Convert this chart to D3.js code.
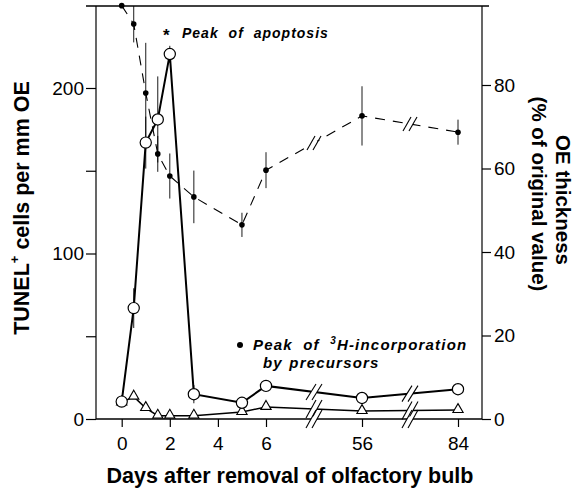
<!DOCTYPE html>
<html>
<head>
<meta charset="utf-8">
<script src="https://cdn.jsdelivr.net/npm/d3@7/dist/d3.min.js"></script>
<style>
  html, body { margin: 0; padding: 0; background: #fff; }
  svg { display: block; }
  text { font-family: "Liberation Sans", Arial, Helvetica, sans-serif; fill: #000; }
</style>
</head>
<body>
<svg id="chart" width="575" height="490"></svg>
<script>
// ---------------- data ----------------
const days = [0, 0.5, 1, 1.5, 2, 3, 5, 6, 56, 84];
const tunel = [10.5, 67, 167, 181, 220.5, 15, 9.8, 20, 12.7, 18];          // open circles, left axis
const tunelErr = [0, 12, 15.7, 26, 5, 5.5, 0, 0, 0, 0];
const precursor = [10, 13.5, 6.6, 2, 2, 2, 4.2, 7.3, 4.8, 5.4];           // triangles, left axis
const oeThickness = [99, 94.6, 78.1, 63.5, 58.2, 53.2, 46.5, 59.6, 72.6, 68.7]; // filled dots, right axis (%)
const oeErr = [0, 4.4, 12, 4.3, 5.4, 6.3, 2.9, 4.3, 7.1, 3];
const xTicks = [0, 2, 4, 6, 56, 84];
const yLeftTicks = [0, 50, 100, 150, 200];
const yLeftLabels = [0, 100, 200];
const yRightTicks = [0, 20, 40, 60, 80];

// ---------------- layout ----------------
const svg = d3.select("#chart");
const L = 96, R = 482, T = 6, B = 419;

const x = d3.scaleLinear().domain([0, 6, 56, 84]).range([121.7, 266, 362, 458]);
const yL = d3.scaleLinear().domain([0, 250]).range([B, B - 250 * 1.655]);
const yR = d3.scaleLinear().domain([0, 80]).range([B, 85]);

// frame lines
svg.append("line").attr("x1", 86).attr("x2", 489).attr("y1", T).attr("y2", T)
  .attr("stroke", "#000").attr("stroke-width", 1.6);
svg.append("line").attr("x1", L).attr("x2", L).attr("y1", T).attr("y2", B)
  .attr("stroke", "#000").attr("stroke-width", 1.2);
svg.append("line").attr("x1", R).attr("x2", R).attr("y1", T).attr("y2", B)
  .attr("stroke", "#000").attr("stroke-width", 1.2);
svg.append("line").attr("x1", L).attr("x2", R).attr("y1", B).attr("y2", B)
  .attr("stroke", "#000").attr("stroke-width", 1.6);

// axes
const fs = 19;
const gL = svg.append("g").attr("transform", `translate(${L},0)`)
  .call(d3.axisLeft(yL).tickValues(yLeftTicks)
    .tickFormat(d => yLeftLabels.includes(d) ? d : "").tickSize(10).tickPadding(2));
const gR = svg.append("g").attr("transform", `translate(${R},0)`)
  .call(d3.axisRight(yR).tickValues(yRightTicks).tickSize(9).tickPadding(3));
const gX = svg.append("g").attr("transform", `translate(0,${B})`)
  .call(d3.axisBottom(x).tickValues(xTicks).tickSize(8).tickPadding(10));
[gL, gR, gX].forEach(g => {
  g.select(".domain").remove();
  g.selectAll(".tick line").attr("stroke", "#000").attr("stroke-width", 1.2);
  g.selectAll(".tick text").attr("font-size", fs).attr("font-family", "Liberation Sans, Arial, sans-serif").attr("fill", "#000");
});

// break positions (midpoints between 6|56 and 56|84 on screen)
const breaks = [(x(6) + x(56)) / 2, (x(56) + x(84)) / 2];

function yAt(xs, ys, px) {
  for (let i = 0; i < xs.length - 1; i++) {
    if (px >= xs[i] && px <= xs[i + 1]) {
      const t = (px - xs[i]) / (xs[i + 1] - xs[i]);
      return ys[i] + t * (ys[i + 1] - ys[i]);
    }
  }
  return ys[ys.length - 1];
}
function drawBreak(px, py, h, w) {
  const g = svg.append("g");
  g.append("rect").attr("x", px - 3).attr("y", py - 2.5).attr("width", 6).attr("height", 5).attr("fill", "#fff");
  [-3, 3].forEach(o => {
    g.append("line")
      .attr("x1", px + o - w).attr("y1", py + h)
      .attr("x2", px + o + w).attr("y2", py - h)
      .attr("stroke", "#000").attr("stroke-width", 1.1);
  });
}

// ---------- OE thickness (dashed, right axis) ----------
const oePts = days.map((d, i) => [x(d), yR(oeThickness[i])]);
svg.append("path")
  .attr("d", d3.line()(oePts))
  .attr("fill", "none").attr("stroke", "#000").attr("stroke-width", 1.1)
  .attr("stroke-dasharray", "10,8");
days.forEach((d, i) => {
  if (oeErr[i] > 0) {
    svg.append("line")
      .attr("x1", x(d)).attr("x2", x(d))
      .attr("y1", Math.max(T, yR(oeThickness[i] + oeErr[i])))
      .attr("y2", yR(oeThickness[i] - oeErr[i]))
      .attr("stroke", "#000").attr("stroke-width", 0.9);
  }
});

// ---------- Precursor triangles (left axis) ----------
const triPts = days.map((d, i) => [x(d), yL(precursor[i])]);
svg.append("path").attr("d", d3.line()(triPts))
  .attr("fill", "none").attr("stroke", "#000").attr("stroke-width", 1.5);

// ---------- TUNEL circles (left axis) ----------
const cirPts = days.map((d, i) => [x(d), yL(tunel[i])]);
days.forEach((d, i) => {
  if (tunelErr[i] > 0) {
    svg.append("line")
      .attr("x1", x(d)).attr("x2", x(d))
      .attr("y1", yL(tunel[i] + tunelErr[i])).attr("y2", yL(tunel[i] - tunelErr[i]))
      .attr("stroke", "#000").attr("stroke-width", 0.9);
  }
});
svg.append("path").attr("d", d3.line()(cirPts))
  .attr("fill", "none").attr("stroke", "#000").attr("stroke-width", 2);

// break marks
const sx = days.map(d => x(d));
breaks.forEach(bx => {
  drawBreak(bx, yAt(sx, oePts.map(p => p[1]), bx), 7, 4);
  drawBreak(bx, yAt(sx, triPts.map(p => p[1]), bx), 9, 5);
  drawBreak(bx, yAt(sx, cirPts.map(p => p[1]), bx), 8, 5);
  drawBreak(bx, B, 9, 5);
});

// markers
svg.selectAll(".dot").data(oePts).join("circle")
  .attr("cx", p => p[0]).attr("cy", p => p[1]).attr("r", 2.8).attr("fill", "#000");
const triSym = d3.symbol().type(d3.symbolTriangle).size(46);
svg.selectAll(".tri").data(triPts).join("path")
  .attr("d", triSym).attr("transform", p => `translate(${p[0]},${p[1] - 0.5})`)
  .attr("fill", "#fff").attr("stroke", "#000").attr("stroke-width", 1.1);
svg.selectAll(".cir").data(cirPts).join("circle")
  .attr("cx", p => p[0]).attr("cy", p => p[1]).attr("r", 5.6)
  .attr("fill", "#fff").attr("stroke", "#000").attr("stroke-width", 1.2);

// ---------- annotations ----------
svg.append("text").attr("x", 163).attr("y", 41).attr("font-size", 17).attr("font-weight", "bold").text("*");
svg.append("text").attr("x", 182).attr("y", 38)
  .attr("font-size", 14).attr("font-style", "italic").attr("font-weight", "bold")
  .attr("letter-spacing", 1).attr("word-spacing", 5)
  .text("Peak of apoptosis");

svg.append("circle").attr("cx", 240).attr("cy", 345).attr("r", 3).attr("fill", "#000");
const t2 = svg.append("text").attr("x", 253).attr("y", 350)
  .attr("font-size", 15).attr("font-style", "italic").attr("font-weight", "bold")
  .attr("letter-spacing", 1.2).attr("word-spacing", 5);
t2.append("tspan").text("Peak of ");
t2.append("tspan").attr("font-size", 10).attr("dy", -6).text("3");
t2.append("tspan").attr("dy", 6).text("H-incorporation");
svg.append("text").attr("x", 263).attr("y", 368)
  .attr("font-size", 15).attr("font-style", "italic").attr("font-weight", "bold")
  .attr("letter-spacing", 1.2).attr("word-spacing", 1)
  .text("by precursors");

// ---------- axis titles ----------
svg.append("text").attr("x", 290).attr("y", 483).attr("text-anchor", "middle")
  .attr("font-size", 21.5).attr("font-weight", "bold")
  .text("Days after removal of olfactory bulb");

const lt = svg.append("text")
  .attr("transform", "translate(22,208) rotate(-90)")
  .attr("text-anchor", "middle").attr("dominant-baseline", "central")
  .attr("font-size", 21.5).attr("font-weight", "bold");
lt.append("tspan").text("TUNEL");
lt.append("tspan").attr("font-size", 13).attr("dy", -8).text("+");
lt.append("tspan").attr("dy", 8).text(" cells per mm OE");

svg.append("text")
  .attr("transform", "translate(563,200) rotate(90)")
  .attr("text-anchor", "middle").attr("dominant-baseline", "central")
  .attr("font-size", 20.5).attr("font-weight", "bold")
  .text("OE thickness");
svg.append("text")
  .attr("transform", "translate(539,194) rotate(90)")
  .attr("text-anchor", "middle").attr("dominant-baseline", "central")
  .attr("font-size", 20.5).attr("font-weight", "bold")
  .text("(% of original value)");
</script>
</body>
</html>
